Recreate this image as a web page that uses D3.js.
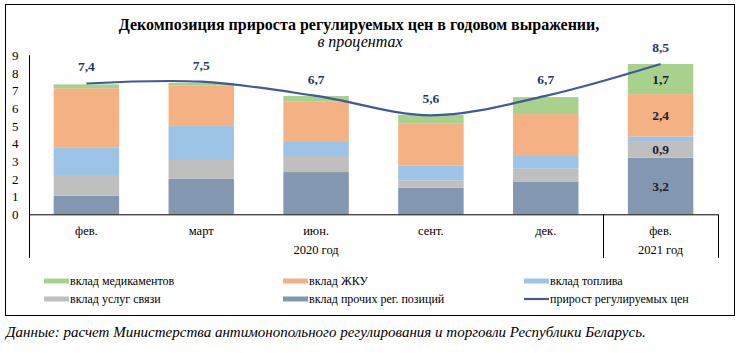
<!DOCTYPE html>
<html>
<head>
<meta charset="utf-8">
<script src="https://cdn.jsdelivr.net/npm/d3@7"></script>
<style>
  body { margin: 0; background: #fff; }
</style>
</head>
<body>
<div id="chart-area"></div>
<script>
// data
const months = ["фев.", "март", "июн.", "сент.", "дек.", "фев. "];
const years = [
  { label: "2020 год", from: 0, to: 4 },
  { label: "2021 год", from: 5, to: 5 },
];
const others = [1.05, 2.0, 2.39, 1.5, 1.83, 3.2];
const comm = [1.12, 1.07, 0.91, 0.42, 0.75, 0.9];
const fuel = [1.62, 1.92, 0.79, 0.83, 0.72, 0.3];
const zhku = [3.34, 2.31, 2.28, 2.4, 2.37, 2.4];
const meds = [0.22, 0.14, 0.32, 0.47, 0.96, 1.7];
const total = [7.4, 7.5, 6.7, 5.6, 6.7, 8.5];
const yTicks = [0, 1, 2, 3, 4, 5, 6, 7, 8, 9];

const keys = ["others", "comm", "fuel", "zhku", "meds"];
const colors = {
  others: "#8497B0",
  comm: "#BFBFBF",
  fuel: "#9DC3E6",
  zhku: "#F4B183",
  meds: "#A9D18E",
};
const lineColor = "#3F5A96";

const legendItems = [
  { name: "вклад медикаментов", key: "meds" },
  { name: "вклад ЖКУ", key: "zhku" },
  { name: "вклад топлива", key: "fuel" },
  { name: "вклад услуг связи", key: "comm" },
  { name: "вклад прочих рег. позиций", key: "others" },
  { name: "прирост регулируемых цен", key: "line" },
];

const W = 740, H = 353;
const plot = { left: 29, right: 718, top: 55.2, bottom: 214.3 };
const serif = "'Liberation Serif', 'Times New Roman', serif";

const svg = d3.select("#chart-area")
  .append("svg")
  .attr("width", W)
  .attr("height", H)
  .attr("font-family", serif);

// frame
svg.append("rect")
  .attr("x", 5.5).attr("y", 4.5)
  .attr("width", 729).attr("height", 311)
  .attr("fill", "none")
  .attr("stroke", "#000")
  .attr("stroke-width", 1);

// title
svg.append("text")
  .attr("x", 359).attr("y", 30)
  .attr("text-anchor", "middle")
  .attr("font-size", "16px")
  .attr("font-weight", "bold")
  .text("Декомпозиция прироста регулируемых цен в годовом выражении,");

svg.append("text")
  .attr("x", 360).attr("y", 47)
  .attr("text-anchor", "middle")
  .attr("font-size", "16px")
  .attr("font-style", "italic")
  .text("в процентах");

const rows = months.map((m, i) => ({
  month: m,
  others: others[i], comm: comm[i], fuel: fuel[i], zhku: zhku[i], meds: meds[i],
  total: total[i],
}));

const x = d3.scaleBand()
  .domain(months)
  .range([plot.left, plot.right])
  .paddingInner(0.43)
  .paddingOuter(0.215);

const y = d3.scaleLinear()
  .domain([0, 9])
  .range([plot.bottom, plot.top]);

const series = d3.stack().keys(keys)(rows);

// bars
svg.append("g")
  .selectAll("g")
  .data(series)
  .enter()
  .append("g")
  .attr("fill", (s) => colors[s.key])
  .selectAll("rect")
  .data((s) => s)
  .enter()
  .append("rect")
  .attr("x", (d) => x(d.data.month))
  .attr("y", (d) => y(d[1]))
  .attr("width", x.bandwidth())
  .attr("height", (d) => y(d[0]) - y(d[1]));

// y axis
const yAxisCall = d3.axisLeft(y)
  .tickValues(yTicks)
  .tickSizeInner(0)
  .tickSizeOuter(0)
  .tickPadding(11)
  .tickFormat(d3.format("d"));
const yAxis = svg.append("g")
  .attr("transform", "translate(" + (plot.left + 0.5) + ",0)")
  .call(yAxisCall)
  .attr("font-family", serif)
  .attr("font-size", "13px");
yAxis.select(".domain").remove();
yAxis.selectAll("text").attr("fill", "#000");

const axisBottomY = 258;
const gAx = svg.append("g")
  .attr("stroke", "#000")
  .attr("stroke-width", 1);
gAx.append("line")
  .attr("x1", plot.left + 0.5).attr("x2", plot.left + 0.5)
  .attr("y1", y(9)).attr("y2", axisBottomY);
gAx.append("line")
  .attr("x1", plot.left).attr("x2", plot.right)
  .attr("y1", y(0) + 0.5).attr("y2", y(0) + 0.5);

// group separators
const step = x.step();
const sepX = years.map((yr) => x(months[yr.to]) + x.bandwidth() + (step - x.bandwidth()) / 2);
sepX.forEach((sx) => {
  gAx.append("line")
    .attr("x1", Math.round(sx) + 0.5).attr("x2", Math.round(sx) + 0.5)
    .attr("y1", y(0)).attr("y2", axisBottomY);
});

// category labels
svg.append("g")
  .selectAll("text")
  .data(months)
  .enter()
  .append("text")
  .attr("x", (d) => x(d) + x.bandwidth() / 2)
  .attr("y", 235)
  .attr("text-anchor", "middle")
  .attr("font-size", "12.5px")
  .text((d) => d.trim());

// year labels
svg.append("g")
  .selectAll("text")
  .data(years)
  .enter()
  .append("text")
  .attr("x", (d) => {
    const a = d.from === 0 ? plot.left : sepX[0];
    const b = d.to === months.length - 1 ? plot.right : sepX[0];
    return (a + b) / 2;
  })
  .attr("y", 254)
  .attr("text-anchor", "middle")
  .attr("font-size", "12.5px")
  .text((d) => d.label);

// line
const cx = (d) => x(d.month) + x.bandwidth() / 2;
const line = d3.line()
  .x(cx)
  .y((d) => y(d.total))
  .curve(d3.curveCatmullRom.alpha(0.5));

svg.append("path")
  .datum(rows)
  .attr("fill", "none")
  .attr("stroke", lineColor)
  .attr("stroke-width", 2.2)
  .attr("d", line);

// line labels
svg.append("g")
  .selectAll("text")
  .data(rows)
  .enter()
  .append("text")
  .attr("x", cx)
  .attr("y", (d) => y(d.total) - 12)
  .attr("text-anchor", "middle")
  .attr("font-size", "13.5px")
  .attr("font-weight", "bold")
  .attr("fill", "#1F3864")
  .text((d) => d3.format(".1f")(d.total).replace(".", ","));

// segment labels in the last bar
const last = rows.length - 1;
const segLabels = series
  .filter((s) => s.key !== "fuel")
  .map((s) => ({ key: s.key, d: s[last] }));
svg.append("g")
  .selectAll("text")
  .data(segLabels)
  .enter()
  .append("text")
  .attr("x", x(months[last]) + x.bandwidth() / 2)
  .attr("y", (s) => (y(s.d[0]) + y(s.d[1])) / 2 + 4.5)
  .attr("text-anchor", "middle")
  .attr("font-size", "13.5px")
  .attr("font-weight", "bold")
  .attr("fill", "#1B2233")
  .text((s) => d3.format(".1f")(s.d[1] - s.d[0]).replace(".", ","));

// legend
const legCols = [44, 283, 524];
const legRows = [281, 299];
const leg = svg.append("g")
  .selectAll("g")
  .data(legendItems)
  .enter()
  .append("g")
  .attr("transform", (d, i) => "translate(" + legCols[i % 3] + "," + legRows[Math.floor(i / 3)] + ")");
leg.filter((d) => d.key !== "line")
  .append("rect")
  .attr("x", 0).attr("y", -2.5)
  .attr("width", 25).attr("height", 5)
  .attr("fill", (d) => colors[d.key]);
leg.filter((d) => d.key === "line")
  .append("line")
  .attr("x1", 0).attr("x2", 25)
  .attr("y1", 0).attr("y2", 0)
  .attr("stroke", lineColor)
  .attr("stroke-width", 2.2);
leg.append("text")
  .attr("x", 26)
  .attr("y", 4)
  .attr("font-size", "12px")
  .text((d) => d.name);

// source
svg.append("text")
  .attr("x", 6).attr("y", 337)
  .attr("font-size", "15px")
  .attr("font-style", "italic")
  .text("Данные: расчет Министерства антимонопольного регулирования и торговли Республики Беларусь.");
</script>
</body>
</html>
